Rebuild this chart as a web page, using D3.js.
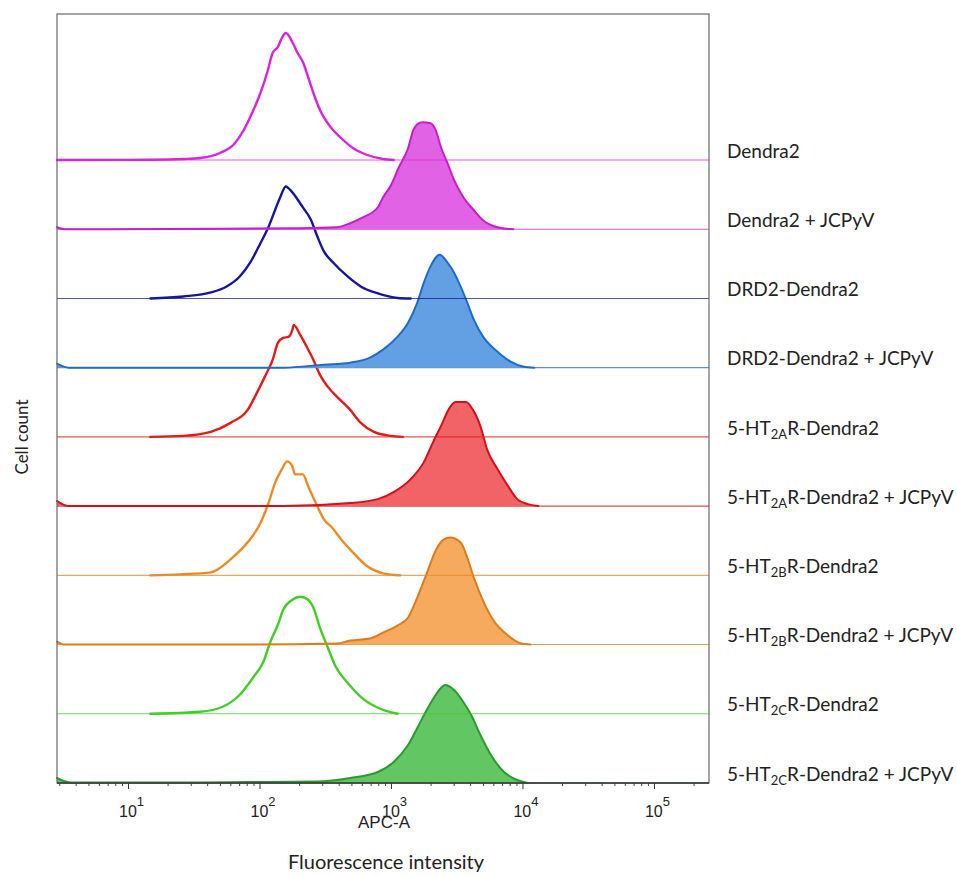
<!DOCTYPE html>
<html>
<head>
<meta charset="utf-8">
<script src="https://cdn.jsdelivr.net/npm/d3@7"></script>
<style>
  body { margin: 0; background: #fff; }
  svg { display: block; }
</style>
</head>
<body>
<svg id="chart" width="957" height="876"></svg>
<script>
// Offset histograms (APC-A), one track per sample, top to bottom.
const samples = [
  "Dendra2", "Dendra2 + JCPyV",
  "DRD2-Dendra2", "DRD2-Dendra2 + JCPyV",
  "5-HT2AR-Dendra2", "5-HT2AR-Dendra2 + JCPyV",
  "5-HT2BR-Dendra2", "5-HT2BR-Dendra2 + JCPyV",
  "5-HT2CR-Dendra2", "5-HT2CR-Dendra2 + JCPyV"
];
// label pieces: [text, isSubscript]
const labelParts = [
  [["Dendra2"]],
  [["Dendra2 + JCPyV"]],
  [["DRD2-Dendra2"]],
  [["DRD2-Dendra2 + JCPyV"]],
  [["5-HT"], ["2A", 1], ["R-Dendra2"]],
  [["5-HT"], ["2A", 1], ["R-Dendra2 + JCPyV"]],
  [["5-HT"], ["2B", 1], ["R-Dendra2"]],
  [["5-HT"], ["2B", 1], ["R-Dendra2 + JCPyV"]],
  [["5-HT"], ["2C", 1], ["R-Dendra2"]],
  [["5-HT"], ["2C", 1], ["R-Dendra2 + JCPyV"]]
];
const filled = [false, true, false, true, false, true, false, true, false, true];
const lineColors = ["#dc22dc", "#c41fc6", "#16169c", "#1f6bcb", "#e01c1c", "#d0121a", "#ec8a24", "#e07a1a", "#44cc28", "#2b9a30"];
const fillColors = [null, "#e262e6", null, "#62a0e3", null, "#f26367", null, "#f6aa5e", null, "#62c662"];

const dendra2 = [[0.46,0],[1.17,0.3],[1.43,1],[1.55,2],[1.70,7],[1.80,15],[1.88,30],[1.93,43],[2.01,68],[2.06,88],[2.10,107],[2.14,113],[2.17,122],[2.20,127],[2.25,118],[2.29,107],[2.33,98],[2.37,83],[2.41,67],[2.46,50],[2.54,33],[2.62,22],[2.71,12],[2.82,5],[2.94,1],[3.02,0],[5.42,0]];
const dendra2JC = [[0.46,2],[0.52,0],[1.70,0.5],[2.31,1],[2.59,2],[2.69,6],[2.79,12],[2.90,22],[2.94,32],[3.00,44],[3.06,62],[3.13,81],[3.17,99],[3.20,105],[3.24,107],[3.30,106],[3.34,99],[3.38,82],[3.43,66],[3.48,49],[3.55,32],[3.63,19],[3.70,9],[3.81,2],[3.93,0],[5.42,0]];
const drd2 = [[0.46,0],[1.17,0],[1.42,2],[1.63,6],[1.75,12],[1.85,22],[1.93,36],[2.01,56],[2.07,72],[2.12,89],[2.16,102],[2.20,112],[2.23,109],[2.29,99],[2.33,91],[2.39,79],[2.44,62],[2.49,47],[2.56,36],[2.67,22],[2.77,12],[2.90,5],[3.05,0.5],[3.15,0],[5.42,0]];
const drd2JC = [[0.46,4],[0.55,0],[2.18,0],[2.49,3],[2.69,5],[2.84,10],[2.94,18],[3.05,31],[3.13,45],[3.20,65],[3.25,85],[3.30,101],[3.37,113],[3.43,105],[3.48,95],[3.53,81],[3.58,65],[3.63,48],[3.70,31],[3.81,16],[3.91,6],[4.01,1],[4.09,0],[5.42,0]];
const ht2a = [[0.46,0],[1.17,0],[1.42,1],[1.63,5],[1.78,14],[1.91,27],[1.98,44],[2.04,60],[2.10,77],[2.14,94],[2.18,99],[2.22,100],[2.25,107],[2.26,112],[2.31,102],[2.36,90],[2.41,77],[2.46,62],[2.52,50],[2.59,40],[2.69,27],[2.77,14],[2.87,5],[3.00,1],[3.09,0],[5.42,0]];
const ht2aJC = [[0.46,5],[0.55,0],[2.18,0],[2.69,3],[2.90,7],[3.02,14],[3.15,27],[3.25,44],[3.32,64],[3.38,80],[3.44,97],[3.49,104],[3.57,104],[3.62,97],[3.68,80],[3.73,57],[3.81,37],[3.89,20],[3.96,7],[4.04,2],[4.12,0],[5.42,0]];
const ht2b = [[0.46,0],[1.17,0],[1.40,1],[1.63,3],[1.78,16],[1.91,33],[2.01,53],[2.07,73],[2.12,93],[2.17,106],[2.21,114],[2.25,109],[2.27,101],[2.33,101],[2.37,89],[2.44,69],[2.49,56],[2.55,48],[2.62,36],[2.71,23],[2.82,9],[2.94,2],[3.07,0],[5.42,0]];
const ht2bJC = [[0.46,3],[0.52,0],[1.93,0],[2.59,1],[2.69,4],[2.84,6],[2.94,12],[3.05,19],[3.13,27],[3.20,47],[3.28,74],[3.34,94],[3.40,105],[3.45,107],[3.53,102],[3.58,87],[3.63,67],[3.70,44],[3.78,24],[3.89,9],[3.99,1],[4.06,0],[5.42,0]];
const ht2c = [[0.46,0],[1.17,0],[1.55,2],[1.72,7],[1.85,19],[1.95,36],[2.03,52],[2.08,71],[2.14,89],[2.18,104],[2.25,114],[2.31,117],[2.37,114],[2.41,106],[2.46,86],[2.52,66],[2.58,47],[2.67,31],[2.77,17],[2.90,6],[3.05,0],[5.42,0]];
const ht2cJC = [[0.46,5],[0.56,0.5],[1.50,0.5],[1.93,1],[2.44,1.5],[2.69,5],[2.90,11],[3.02,21],[3.13,38],[3.20,55],[3.28,75],[3.34,88],[3.38,95],[3.41,98],[3.48,93],[3.55,81],[3.61,68],[3.68,48],[3.76,28],[3.86,11],[3.96,3],[4.04,0],[5.42,0]];
const histograms = [dendra2, dendra2JC, drd2, drd2JC, ht2a, ht2aJC, ht2b, ht2bJC, ht2c, ht2cJC];

const majorTicks = [1e1, 1e2, 1e3, 1e4, 1e5];
const majorExponents = ["1", "2", "3", "4", "5"];
const xDomain = [Math.pow(10, 0.46), 262144];

const frame = { left: 57, right: 709, top: 14, bottom: 783 };
const svg = d3.select("#chart");
svg.append("rect").attr("width", 957).attr("height", 876).attr("fill", "#fff");

const x = d3.scaleLog().domain(xDomain).range([frame.left, frame.right]);
// baselines of each track, last one sits on the axis
const track = d3.scalePoint().domain(samples).range([160, frame.bottom]);
const count = d3.scaleLinear().domain([0, 130]).range([0, 130]);

const plot = svg.append("g");

// bottom track first so upper baselines run across lower peaks
for (let i = samples.length - 1; i >= 0; i--) {
  const base = track(samples[i]);
  const pts = histograms[i];
  const g = plot.append("g");

  g.append("line")
    .attr("x1", frame.left).attr("x2", frame.right)
    .attr("y1", base).attr("y2", base)
    .attr("stroke", lineColors[i]).attr("stroke-opacity", 0.75)
    .attr("stroke-width", 1.1);

  if (filled[i]) {
    g.append("path")
      .datum(pts)
      .attr("fill", fillColors[i])
      .attr("d", d3.area()
        .x((d) => x(Math.pow(10, d[0])))
        .y0(base)
        .y1((d) => base - count(d[1]))
        .curve(d3.curveMonotoneX));
  }

  g.append("path")
    .datum(pts)
    .attr("fill", "none")
    .attr("stroke", lineColors[i])
    .attr("stroke-width", filled[i] ? 2 : 2.4)
    .attr("stroke-linejoin", "round")
    .attr("stroke-linecap", "round")
    .attr("d", d3.line()
      .defined((d, j, arr) => d[1] > 0 || (arr[j - 1] && arr[j - 1][1] > 0) || (arr[j + 1] && arr[j + 1][1] > 0))
      .x((d) => x(Math.pow(10, d[0])))
      .y((d) => base - count(d[1]))
      .curve(d3.curveMonotoneX));
}

// frame
svg.append("rect")
  .attr("x", frame.left).attr("y", frame.top)
  .attr("width", frame.right - frame.left).attr("height", frame.bottom - frame.top)
  .attr("fill", "none").attr("stroke", "#6a6a6a").attr("stroke-width", 1.2);

// axis ticks
const minorTicks = x.ticks().filter((v) => !majorTicks.includes(v));
const axisG = svg.append("g").attr("transform", `translate(0,${frame.bottom})`);
axisG.append("g")
  .call(d3.axisBottom(x).tickValues(minorTicks).tickSize(3).tickFormat(""))
  .call((s) => s.select(".domain").remove())
  .call((s) => s.selectAll("line").attr("stroke", "#444"));
axisG.append("g")
  .call(d3.axisBottom(x).tickValues(majorTicks).tickSize(6).tickFormat(""))
  .call((s) => s.select(".domain").remove())
  .call((s) => s.selectAll("line").attr("stroke", "#333"));
svg.append("line")
  .attr("x1", frame.left).attr("x2", frame.right)
  .attr("y1", frame.bottom).attr("y2", frame.bottom)
  .attr("stroke", "#3a3a3a").attr("stroke-width", 1.3);

const tickLabels = svg.append("g")
  .attr("font-family", "'Liberation Sans', Arial, sans-serif")
  .attr("fill", "#222");
majorTicks.forEach((v, k) => {
  const t = tickLabels.append("text")
    .attr("x", x(v) - 9)
    .attr("y", frame.bottom + 34)
    .attr("font-size", 16);
  t.append("tspan").text("10");
  t.append("tspan").attr("dy", -11).attr("font-size", 13).text(majorExponents[k]);
});

svg.append("text")
  .attr("x", 384).attr("y", frame.bottom + 45)
  .attr("text-anchor", "middle")
  .attr("font-family", "'Liberation Sans', Arial, sans-serif")
  .attr("font-size", 17).attr("fill", "#222")
  .text("APC-A");

svg.append("text")
  .attr("x", 386).attr("y", 869)
  .attr("text-anchor", "middle")
  .attr("font-family", "Lato, 'Open Sans', sans-serif")
  .attr("font-size", 20).attr("fill", "#222")
  .text("Fluorescence intensity");

svg.append("text")
  .attr("transform", "translate(28,437) rotate(-90)")
  .attr("text-anchor", "middle")
  .attr("font-family", "Lato, 'Open Sans', sans-serif")
  .attr("font-size", 17).attr("fill", "#222")
  .text("Cell count");

// sample labels on the right
const labels = svg.append("g")
  .attr("font-family", "Lato, 'Open Sans', sans-serif")
  .attr("font-size", 19).attr("fill", "#222");
samples.forEach((s, i) => {
  const t = labels.append("text")
    .attr("x", 727)
    .attr("y", track(s) - 9)
    .attr("dy", "0.35em");
  labelParts[i].forEach((p, k) => {
    if (p[1]) {
      t.append("tspan").attr("dy", 4).attr("font-size", 13).text(p[0]);
    } else {
      t.append("tspan").attr("dy", k > 0 ? -4 : null).text(p[0]);
    }
  });
});
</script>
</body>
</html>
